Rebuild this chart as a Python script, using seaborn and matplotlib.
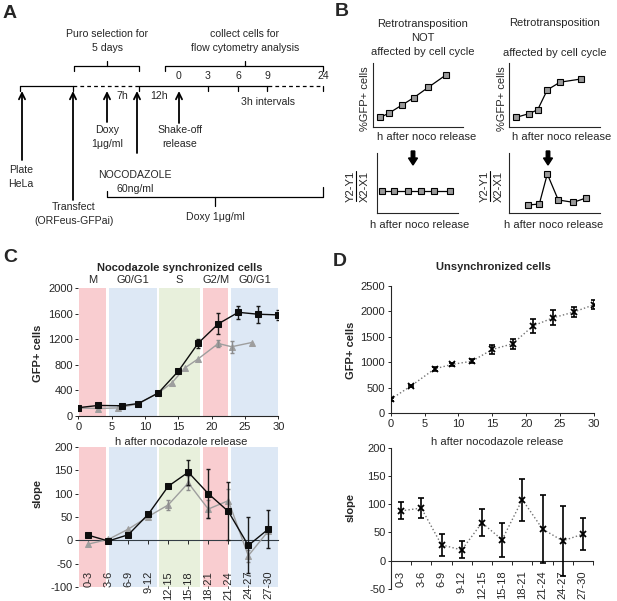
import numpy as np
import pandas as pd
import seaborn as sns
import matplotlib.pyplot as plt

# ---- panel C: nocodazole synchronized cells (two replicates)
time_sync = [0, 3, 6.5, 9, 12, 15, 18, 21, 24, 27, 30]
gfp_sync = [130, 165, 160, 195, 360, 700, 1140, 1440, 1620, 1590, 1580]
gfp_sync_err = [0, 0, 0, 0, 0, 0, 70, 165, 105, 135, 80]
time_sync_rep = [0, 3, 6, 9, 12, 14, 16, 18, 21, 23, 26]
gfp_sync_rep = [125, 117, 127, 190, 360, 513, 752, 894, 1133, 1082, 1148]
gfp_sync_rep_err = [0, 0, 0, 0, 0, 0, 0, 0, 50, 90, 0]

intervals = ['0-3', '3-6', '6-9', '9-12', '12-15', '15-18', '18-21', '21-24', '24-27', '27-30']
slope_sync = [11, -1.5, 12, 56, 116, 146, 100, 62, -11, 24]
slope_sync_err = [0, 0, 0, 0, 3, 27, 52, 62, 60, 40]
slope_sync_rep = [-8, 2, 24, 51, 76, 123, 67, 85, -33, 20]
slope_sync_rep_err = [0, 0, 0, 0, 11, 15, 20, 25, 13, 0]

phases = ['M', 'G0/G1', 'S', 'G2/M', 'G0/G1']
phase_start = [0.15, 4.6, 12.15, 18.75, 22.85]
phase_end = [4.2, 11.85, 18.25, 22.45, 30]
phase_colors = ['#f9cdd0', '#dde8f5', '#e8f0dc', '#f9cdd0', '#dde8f5']

# ---- panel D: unsynchronized cells
time_unsync = [0, 3, 6.5, 9, 12, 15, 18, 21, 24, 27, 30]
gfp_unsync = [275, 535, 870, 955, 1020, 1250, 1360, 1710, 1870, 1980, 2125]
gfp_unsync_err = [30, 20, 45, 25, 35, 95, 95, 135, 150, 95, 85]
slope_unsync = [88, 93, 28, 19, 67, 37, 108, 56, 35, 47]
slope_unsync_err = [15, 18, 20, 15, 24, 30, 37, 60, 62, 28]

# ---- panel B: schematic curves (arbitrary units)
b_lin_x = [0.84, 1.84, 3.21, 4.57, 6.16, 8.08]
b_lin_y = [1.5, 2.2, 3.4, 4.6, 6.2, 8.1]
b_cyc_x = [0.74, 2.2, 3.13, 4.19, 5.59, 7.9]
b_cyc_y = [1.5, 2.1, 2.7, 5.8, 7.0, 7.5]
b_lin_slope_x = [0.62, 2.16, 3.81, 5.45, 7.08, 9.0]
b_lin_slope_y = [3.7, 3.7, 3.7, 3.7, 3.7, 3.7]
b_cyc_slope_x = [2.09, 3.31, 4.19, 5.4, 7.06, 8.46]
b_cyc_slope_y = [1.33, 1.5, 6.5, 2.17, 1.78, 2.5]

mids = [sum(int(v) for v in s.split('-')) / 2 for s in intervals]
bounds = [int(s.split('-')[1]) for s in intervals]

sns.set_style('ticks')
plt.rcParams['font.family'] = ['Liberation Sans', 'DejaVu Sans']
plt.rcParams['axes.linewidth'] = 0.8
plt.rcParams['axes.unicode_minus'] = False

W, H = 617, 601
fig = plt.figure(figsize=(6.17, 6.01), dpi=100)


def px_axes(x0, y0, x1, y1):
    return fig.add_axes([x0 / W, 1 - y1 / H, (x1 - x0) / W, (y1 - y0) / H])


def bands(ax):
    for s, e, c in zip(phase_start, phase_end, phase_colors):
        ax.axvspan(s, e, color=c, lw=0, zorder=0)


def errs(ax, x, y, e, color, lw=1.0, cap=1.5):
    keep = [i for i in range(len(e)) if e[i] > 0]
    ax.errorbar([x[i] for i in keep], [y[i] for i in keep], yerr=[e[i] for i in keep],
                fmt='none', ecolor=color, elinewidth=lw, capsize=cap, capthick=lw, zorder=4)


def style(ax):
    sns.despine(ax=ax)
    ax.tick_params(labelsize=8, length=2.5, width=0.7, pad=1.5)
    ax.set_xlabel('')
    ax.set_ylabel('')


# ---------------- C top
ax = px_axes(78.3, 288, 278.3, 416)
bands(ax)
errs(ax, time_sync_rep, gfp_sync_rep, gfp_sync_rep_err, '0.55')
sns.lineplot(x=time_sync_rep, y=gfp_sync_rep, ax=ax, color='0.62', marker='^', markersize=4.2,
             markeredgecolor='0.62', lw=1, errorbar=None, zorder=3)
errs(ax, time_sync, gfp_sync, gfp_sync_err, '0.1')
sns.lineplot(x=time_sync, y=gfp_sync, ax=ax, color='0.05', marker='s', markersize=4,
             markeredgecolor='0.05', lw=1, errorbar=None, zorder=5)
ax.set_xlim(0, 30)
ax.set_ylim(0, 2000)
ax.set_xticks(range(0, 31, 5))
ax.set_yticks(range(0, 2001, 400))
style(ax)
ax.spines['left'].set_visible(False)
for p, s, e in zip(phases, phase_start, phase_end):
    ax.text((s + e) / 2, 1.06, p, transform=ax.get_xaxis_transform(), ha='center', va='center', fontsize=8)

# ---------------- C bottom
ax = px_axes(78.3, 447, 278.3, 587)
bands(ax)
errs(ax, mids, slope_sync_rep, slope_sync_rep_err, '0.55')
sns.lineplot(x=mids, y=slope_sync_rep, ax=ax, color='0.62', marker='^', markersize=4.2,
             markeredgecolor='0.62', lw=1, errorbar=None, zorder=3)
errs(ax, mids, slope_sync, slope_sync_err, '0.1')
sns.lineplot(x=mids, y=slope_sync, ax=ax, color='0.05', marker='s', markersize=4,
             markeredgecolor='0.05', lw=1, errorbar=None, zorder=5)
ax.set_xlim(0, 30)
ax.set_ylim(-100, 200)
ax.set_yticks(range(-100, 201, 50))
style(ax)
ax.spines['left'].set_visible(False)
ax.spines['bottom'].set_position(('data', 0))
ax.spines['bottom'].set_color('#333d45')
ax.set_xticks(mids, intervals, rotation=90)
ax.tick_params(axis='x', length=3, pad=19)

# ---------------- D top
ax = px_axes(390.7, 285.5, 594, 413.3)
errs(ax, time_unsync, gfp_unsync, gfp_unsync_err, 'k', lw=1.2, cap=2)
sns.lineplot(x=time_unsync, y=gfp_unsync, ax=ax, color='0.45', ls=':', lw=1, marker='x',
             markersize=4, markeredgecolor='k', markeredgewidth=1.3, errorbar=None, zorder=5)
ax.set_xlim(0, 30)
ax.set_ylim(0, 2500)
ax.set_xticks(range(0, 31, 5))
ax.set_yticks(range(0, 2501, 500))
style(ax)

# ---------------- D bottom
ax = px_axes(391, 447.5, 593, 589)
errs(ax, mids, slope_unsync, slope_unsync_err, 'k', lw=1.2, cap=2)
sns.lineplot(x=mids, y=slope_unsync, ax=ax, color='0.45', ls=':', lw=1, marker='x',
             markersize=4, markeredgecolor='k', markeredgewidth=1.3, errorbar=None, zorder=5)
ax.set_xlim(0, 30)
ax.set_ylim(-50, 200)
ax.set_yticks(range(-50, 201, 50))
style(ax)
ax.spines['bottom'].set_position(('data', 0))
ax.set_xticks(mids, intervals, rotation=90)
ax.set_xticks(bounds, minor=True)
ax.tick_params(axis='x', which='major', length=0, pad=7)
ax.tick_params(axis='x', which='minor', length=3, width=0.7)

# ---------------- B schematics
def mini(rect, x, y):
    a = px_axes(*rect)
    sns.lineplot(x=x, y=y, ax=a, color='k', lw=0.9, marker='s', markersize=4,
                 markerfacecolor='0.6', markeredgecolor='k', markeredgewidth=0.8, errorbar=None)
    a.set_xlim(0, 10)
    a.set_ylim(0, 10)
    sns.despine(ax=a)
    a.set_xticks([])
    a.set_yticks([])
    a.set_xlabel('')
    a.set_ylabel('')


mini((372.7, 63, 463, 127), b_lin_x, b_lin_y)
mini((509.3, 63, 600, 127), b_cyc_x, b_cyc_y)
mini((376.7, 153, 458, 213), b_lin_slope_x, b_lin_slope_y)
mini((509.3, 153, 600, 213), b_cyc_slope_x, b_cyc_slope_y)

# ---------------- overlay for schematic A and text
ov = fig.add_axes([0, 0, 1, 1])
ov.set_xlim(0, W)
ov.set_ylim(H, 0)
ov.axis('off')

fs = 7.6
k = dict(color='k', lw=0.9)

# timeline
yt = 86
ov.plot([20, 73], [yt, yt], **k)
ov.plot([73, 139], [yt, yt], ls=(0, (3, 2.5)), **k)
ov.plot([139, 268], [yt, yt], **k)
ov.plot([268, 323], [yt, yt], ls=(0, (3, 2.5)), **k)
for xt in [20, 73, 139, 208, 238, 267, 323]:
    ov.plot([xt, xt], [yt, yt + 5], **k)

# brackets
ov.plot([74, 74, 139, 139], [71, 66, 66, 71], **k)
ov.plot([107, 107], [66, 61], **k)
ov.plot([165, 165, 323, 323], [71, 66, 66, 71], **k)
ov.plot([245, 245], [66, 61], **k)
ov.plot([107, 107, 323, 323], [191, 196.5, 196.5, 187], **k)
ov.plot([215, 215], [196.5, 206], **k)

# arrows
for xa, y0 in [(22, 160), (73, 200), (107, 122), (137, 153), (179, 123)]:
    ov.annotate('', xy=(xa, 91), xytext=(xa, y0),
                arrowprops=dict(arrowstyle='->,head_length=0.45,head_width=0.22', lw=1.3, color='k',
                                shrinkA=0, shrinkB=0))

tk = dict(ha='center', va='center', fontsize=fs, linespacing=1.45)
ov.text(107, 41, 'Puro selection for\n5 days', **tk)
ov.text(245, 41, 'collect cells for\nflow cytometry analysis', **tk)
for lab, xt in zip(['0', '3', '6', '9', '24'], [179, 208, 238, 267, 323]):
    ov.text(xt, 76, lab, **tk)
ov.text(122, 96, '7h', **tk)
ov.text(159, 96, '12h', **tk)
ov.text(268, 102, '3h intervals', **tk)
ov.text(107, 137, 'Doxy\n1μg/ml', **tk)
ov.text(180, 137, 'Shake-off\nrelease', **tk)
ov.text(21, 177, 'Plate\nHeLa', **tk)
ov.text(135, 182, 'NOCODAZOLE\n60ng/ml', **tk)
ov.text(74, 214, 'Transfect\n(ORFeus-GFPai)', **tk)
ov.text(215, 217, 'Doxy 1μg/ml', **tk)

# panel B text
tb = dict(ha='center', va='center', fontsize=8, linespacing=1.45)
ov.text(423, 38, 'Retrotransposition\nNOT\naffected by cell cycle', **tb)
ov.text(555, 23, 'Retrotransposition', **tb)
ov.text(555, 53, 'affected by cell cycle', **tb)
ov.text(365, 99, '%GFP+ cells', rotation=90, **tb)
ov.text(502, 99, '%GFP+ cells', rotation=90, **tb)
ov.text(427, 137, 'h after noco release', **tb)
ov.text(562, 137, 'h after noco release', **tb)
ov.text(420, 225, 'h after noco release', **tb)
ov.text(554, 225, 'h after noco release', **tb)
# rotated fraction Y2-Y1 / X2-X1
for xc in [356, 490]:
    ov.text(xc - 5.5, 186, 'Y2-Y1', rotation=90, **tb)
    ov.text(xc + 8.5, 186, 'X2-X1', rotation=90, **tb)
    ov.plot([xc, xc], [171, 201], color='k', lw=0.8)
for xa in [413, 548]:
    ov.arrow(xa, 151, 0, 7, width=3.5, head_width=9, head_length=7, fc='k', ec='k')

# panels C/D labels
tl = dict(ha='center', va='center', fontsize=8)
ov.text(180, 268, 'Nocodazole synchronized cells', fontweight='bold', **tl)
ov.text(493, 267, 'Unsynchronized cells', fontweight='bold', **tl)
ov.text(38, 353, 'GFP+ cells', rotation=90, fontweight='bold', **tl)
ov.text(351, 350, 'GFP+ cells', rotation=90, fontweight='bold', **tl)
ov.text(38, 493, 'slope', rotation=90, fontweight='bold', **tl)
ov.text(351, 507, 'slope', rotation=90, fontweight='bold', **tl)
ov.text(181, 442, 'h after nocodazole release', **tl)
ov.text(497, 442, 'h after nocodazole release', **tl)

for lab, xl, yl in [('A', 10, 14), ('B', 342, 12), ('C', 10, 258), ('D', 340, 261)]:
    ov.text(xl, yl, lab, ha='center', va='center', fontsize=14, fontweight='bold')

fig.savefig('out.png', dpi=100)
